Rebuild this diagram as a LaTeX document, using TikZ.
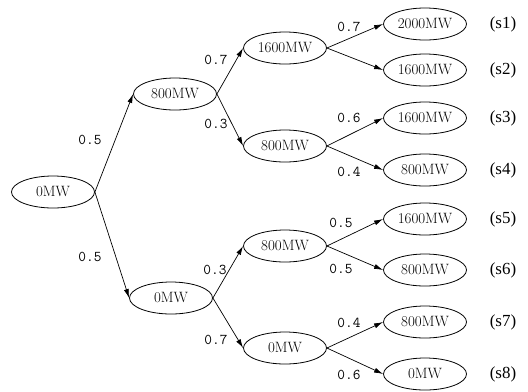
\documentclass[tikz,border=0pt]{standalone}
\usepackage{fontspec}
\newfontfamily\slabfont{Liberation Serif}
\usetikzlibrary{shapes.geometric,arrows.meta}
\begin{document}
\begin{tikzpicture}[x=1bp,y=-1bp,
  st/.style={draw, ellipse, minimum width=83bp, minimum height=32bp, inner sep=0pt,
    line width=0.8bp, font=\fontsize{15}{17}\selectfont},
  leaf/.style={st},
  pr/.style={font=\ttfamily\fontsize{15}{17}\selectfont, inner sep=0pt},
  sc/.style={font=\slabfont\fontsize{17}{20}\selectfont, inner sep=0pt},
  edge/.style={-{Latex[length=9bp,width=5bp]}, line width=0.7bp}]
\useasboundingbox (0,0) rectangle (528,391);
% nodes
\node[st] (r) at (53,192) {0MW};
\node[st] (a1) at (175,94) {800MW};
\node[st] (a2) at (171,298) {0MW};
\node[st] (b1) at (285,48) {1600MW};
\node[st] (b2) at (285,146) {800MW};
\node[st] (b3) at (285,246) {800MW};
\node[st] (b4) at (285,348) {0MW};
\node[leaf] (l1) at (425,24) {\oldstylenums{2000}MW};
\node[leaf] (l2) at (425,70) {\oldstylenums{1600}MW};
\node[leaf] (l3) at (425,118) {\oldstylenums{1600}MW};
\node[leaf] (l4) at (425,170) {\oldstylenums{800}MW};
\node[leaf] (l5) at (425,219) {\oldstylenums{1600}MW};
\node[leaf] (l6) at (425,270) {\oldstylenums{800}MW};
\node[leaf] (l7) at (425,322) {\oldstylenums{800}MW};
\node[leaf] (l8) at (425,374) {\oldstylenums{0}MW};
% scenario labels
\node[sc] (s1) at (503,24) {(s1)};
\node[sc] (s2) at (503,70) {(s2)};
\node[sc] (s3) at (503,118) {(s3)};
\node[sc] (s4) at (503,170) {(s4)};
\node[sc] (s5) at (503,219) {(s5)};
\node[sc] (s6) at (503,270) {(s6)};
\node[sc] (s7) at (503,322) {(s7)};
\node[sc] (s8) at (503,374) {(s8)};
% edges
\draw[edge] (r.east) -- (a1.west);
\draw[edge] (r.east) -- (a2.west);
\draw[edge] (a1.east) -- (b1.west);
\draw[edge] (a1.east) -- (b2.west);
\draw[edge] (a2.east) -- (b3.west);
\draw[edge] (a2.east) -- (b4.west);
\draw[edge] (b1.east) -- (l1.west);
\draw[edge] (b1.east) -- (l2.west);
\draw[edge] (b2.east) -- (l3.west);
\draw[edge] (b2.east) -- (l4.west);
\draw[edge] (b3.east) -- (l5.west);
\draw[edge] (b3.east) -- (l6.west);
\draw[edge] (b4.east) -- (l7.west);
\draw[edge] (b4.east) -- (l8.west);
% probabilities
\node[pr] (p1) at (90,140) {0.5};
\node[pr] (p2) at (90,257) {0.5};
\node[pr] (p3) at (216,60) {0.7};
\node[pr] (p4) at (216,124) {0.3};
\node[pr] (p5) at (215,270) {0.3};
\node[pr] (p6) at (216,340) {0.7};
\node[pr] (p7) at (349,27) {0.7};
\node[pr] (p8) at (349,118) {0.6};
\node[pr] (p9) at (349,172) {0.4};
\node[pr] (p10) at (341,223) {0.5};
\node[pr] (p11) at (341,269) {0.5};
\node[pr] (p12) at (349,323) {0.4};
\node[pr] (p13) at (349,375) {0.6};
\end{tikzpicture}
\end{document}
